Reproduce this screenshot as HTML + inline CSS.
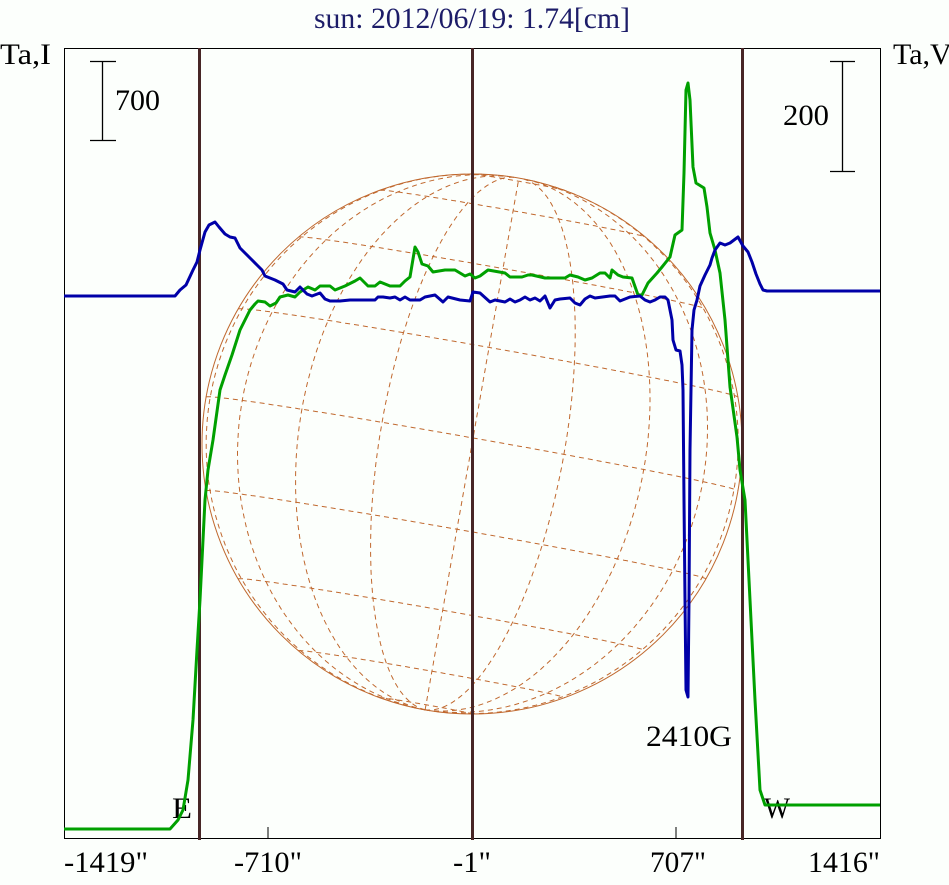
<!DOCTYPE html>
<html><head><meta charset="utf-8">
<style>
html,body{margin:0;padding:0;background:#fff;}
svg{display:block;}
svg text{font-family:"Liberation Serif","Times New Roman","DejaVu Serif",serif !important;}
</style></head>
<body>
<svg id="s" width="949" height="885" xmlns="http://www.w3.org/2000/svg">
<rect width="949" height="885" fill="#fcfffc"/>
<g id="globe"></g>
<circle cx="472" cy="444" r="270" fill="none" stroke="#c0682e" stroke-width="1"/>
<rect x="64.5" y="48.5" width="816" height="790" fill="none" stroke="#000" stroke-width="1"/>
<line x1="268" y1="827" x2="268" y2="838" stroke="#000"/>
<line x1="676" y1="827" x2="676" y2="838" stroke="#000"/>
<line x1="199.5" y1="48" x2="199.5" y2="840" stroke="#472626" stroke-width="3"/>
<line x1="472.5" y1="48" x2="472.5" y2="840" stroke="#472626" stroke-width="3"/>
<line x1="742.5" y1="48" x2="742.5" y2="840" stroke="#472626" stroke-width="3"/>
<g stroke="#000" stroke-width="1.3">
<line x1="102.5" y1="61" x2="102.5" y2="140"/><line x1="90" y1="61.5" x2="116" y2="61.5"/><line x1="90" y1="140.5" x2="116" y2="140.5"/>
<line x1="842.5" y1="61" x2="842.5" y2="171"/><line x1="830" y1="61.5" x2="855" y2="61.5"/><line x1="830" y1="171.5" x2="855" y2="171.5"/>
</g>
<g font-size="30" fill="#000" style="font-family:'Liberation Serif',serif">
<text x="115" y="110" textLength="45" lengthAdjust="spacingAndGlyphs">700</text>
<text x="783" y="125" textLength="46" lengthAdjust="spacingAndGlyphs">200</text>
<text x="0" y="64" textLength="51" lengthAdjust="spacingAndGlyphs">Ta,I</text>
<text x="893" y="64">Ta,V</text>
<text x="314" y="28" fill="#1c1c68" textLength="316" lengthAdjust="spacingAndGlyphs">sun: 2012/06/19: 1.74[cm]</text>
<text x="172" y="818" textLength="20" lengthAdjust="spacingAndGlyphs">E</text>
<text x="764" y="818" textLength="26" lengthAdjust="spacingAndGlyphs">W</text>
<text x="646" y="746" textLength="86" lengthAdjust="spacingAndGlyphs">2410G</text>
<text x="64" y="872" textLength="84" lengthAdjust="spacingAndGlyphs">-1419"</text>
<text x="234" y="872" textLength="68" lengthAdjust="spacingAndGlyphs">-710"</text>
<text x="453" y="872" textLength="38" lengthAdjust="spacingAndGlyphs">-1"</text>
<text x="650" y="872" textLength="56" lengthAdjust="spacingAndGlyphs">707"</text>
<text x="808" y="872" textLength="72" lengthAdjust="spacingAndGlyphs">1416"</text>
</g>
<polyline fill="none" stroke="#00a000" stroke-width="3" stroke-linejoin="round" points="64,829 170,829 178,820 183,810 188,780 193,720 197,650 200,600 205,500 208,470 213,440 220,390 225,375 232,355 240,330 245,320 250,310 255,304 258,301 265,302 270,306 276,303 280,297 288,295 295,297 300,292 308,287 315,290 320,286 330,286 335,290 345,286 355,281 360,278 368,286 375,286 380,282 390,286 400,286 405,281 410,277 415,247 418,252 422,264 428,266 433,272 445,270 455,270 465,276 470,274 475,278 480,276 488,270 505,273 510,277 522,277 528,275 532,275 545,278 565,278 570,275 578,277 585,280 592,278 600,273 605,273 610,278 612,270 618,275 623,277 632,278 638,295 642,295 648,283 657,273 662,267 670,257 675,235 682,230 684,173 686,90 688,83 690,100 693,167 696,183 704,188 707,207 710,233 715,250 720,273 725,320 730,387 737,437 740,470 745,500 750,600 755,700 760,790 765,805 880,805"/>
<polyline fill="none" stroke="#0000a8" stroke-width="3" stroke-linejoin="round" points="64,296 175,296 180,290 186,285 193,270 197,262 200,250 205,232 209,225 215,222 219,227 225,234 230,237 235,238 240,248 245,253 250,258 257,265 262,270 265,276 270,278 275,280 283,284 287,290 295,292 300,287 307,294 312,296 320,293 325,299 330,301 340,301 350,300 375,300 378,297 383,297 390,298 395,297 400,300 405,297 410,300 420,300 425,297 435,295 443,302 448,297 460,300 470,301 473,292 480,293 490,302 495,300 505,302 510,299 515,302 520,300 525,297 530,300 535,298 540,301 545,296 550,308 555,300 560,299 570,298 575,303 580,305 585,299 590,296 595,298 610,296 615,296 620,301 625,299 630,297 640,296 645,300 650,302 655,300 660,297 665,297 668,300 670,310 672,320 673,340 676,350 680,351 682,365 683,390 684,500 685,600 686,690 688,697 689,600 690,450 692,330 694,310 697,300 700,286 705,275 710,265 712,258 715,250 720,243 725,245 730,243 738,237 743,246 748,252 752,262 756,274 760,284 763,290 767,291 880,291"/>
</svg>
<script>
(function(){
var cx=472,cy=444,r=270,B0=-1.3*Math.PI/180,P=10*Math.PI/180,d=Math.PI/180;
function proj(lat,lon){
 var x=Math.cos(lat)*Math.sin(lon);
 var y=Math.sin(lat)*Math.cos(B0)-Math.cos(lat)*Math.cos(lon)*Math.sin(B0);
 var z=Math.cos(lat)*Math.cos(lon)*Math.cos(B0)+Math.sin(lat)*Math.sin(B0);
 var xr=x*Math.cos(P)+y*Math.sin(P), yr=-x*Math.sin(P)+y*Math.cos(P);
 return [cx+r*xr, cy-r*yr, z];
}
var s="";
function line(fn){
 var p="",pen=false;
 for(var t=-90;t<=90;t+=1){var q=fn(t*d); if(q[2]>=0){p+=(pen?"L":"M")+q[0].toFixed(1)+","+q[1].toFixed(1);pen=true;} else pen=false;}
 return p;
}
for(var la=-80;la<=80;la+=20){ (function(la){ s+='<path d="'+line(function(t){return proj(la*d,t);})+'"/>'; })(la); }
for(var lo=-80;lo<=80;lo+=20){ (function(lo){ s+='<path d="'+line(function(t){return proj(t,lo*d);})+'"/>'; })(lo); }
var g=document.getElementById("globe");
g.setAttribute("fill","none");g.setAttribute("stroke","#c0682e");g.setAttribute("stroke-width","1");g.setAttribute("stroke-dasharray","5,4");
g.innerHTML=s;
})();
</script>
</body></html>
